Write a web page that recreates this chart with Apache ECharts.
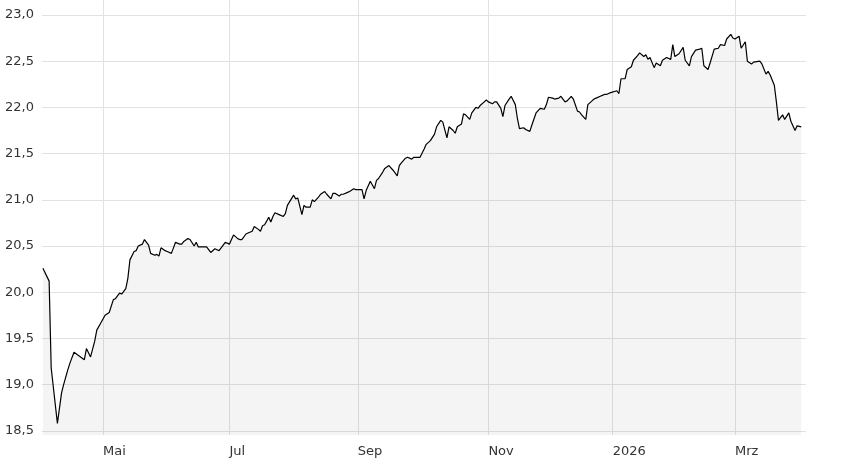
<!DOCTYPE html>
<html>
<head>
<meta charset="utf-8">
<script src="https://cdn.jsdelivr.net/npm/echarts@6/dist/echarts.min.js"></script>
<style>
html,body{margin:0;padding:0;background:#fff;}
#chart{width:848px;height:460px;}
</style>
</head>
<body>
<div id="chart"></div>
<script>
const dates = [
'2025-04-02','2025-04-05','2025-04-06','2025-04-09','2025-04-11','2025-04-12','2025-04-14','2025-04-15','2025-04-17','2025-04-22',
'2025-04-23','2025-04-25','2025-04-27','2025-04-28','2025-04-30','2025-05-02','2025-05-04','2025-05-06','2025-05-07','2025-05-09',
'2025-05-10','2025-05-12','2025-05-13','2025-05-14','2025-05-16','2025-05-17','2025-05-18','2025-05-20','2025-05-21','2025-05-23',
'2025-05-24','2025-05-26','2025-05-27','2025-05-28','2025-05-29','2025-05-31','2025-06-01','2025-06-03','2025-06-04','2025-06-05',
'2025-06-07','2025-06-08','2025-06-09','2025-06-11','2025-06-12','2025-06-14','2025-06-15','2025-06-16','2025-06-18','2025-06-20',
'2025-06-21','2025-06-22','2025-06-24','2025-06-25','2025-06-26','2025-06-28','2025-06-29','2025-07-01','2025-07-02','2025-07-03',
'2025-07-05','2025-07-06','2025-07-07','2025-07-09','2025-07-10','2025-07-12','2025-07-13','2025-07-15','2025-07-16','2025-07-17',
'2025-07-18','2025-07-20','2025-07-21','2025-07-22','2025-07-23','2025-07-25','2025-07-27','2025-07-28','2025-07-29','2025-08-01',
'2025-08-02','2025-08-03','2025-08-05','2025-08-06','2025-08-07','2025-08-09','2025-08-10','2025-08-11','2025-08-13','2025-08-14',
'2025-08-16','2025-08-17','2025-08-19','2025-08-20','2025-08-21','2025-08-23','2025-08-24','2025-08-25','2025-08-27','2025-08-28',
'2025-08-30','2025-08-31','2025-09-02','2025-09-03','2025-09-04','2025-09-05','2025-09-07','2025-09-09','2025-09-10','2025-09-11',
'2025-09-13','2025-09-14','2025-09-16','2025-09-18','2025-09-20','2025-09-21','2025-09-22','2025-09-24','2025-09-25','2025-09-27',
'2025-09-28','2025-09-30','2025-10-01','2025-10-03','2025-10-04','2025-10-06','2025-10-08','2025-10-09','2025-10-11','2025-10-12',
'2025-10-14','2025-10-15','2025-10-17','2025-10-18','2025-10-19','2025-10-21','2025-10-22','2025-10-23','2025-10-25','2025-10-26',
'2025-10-28','2025-10-29','2025-10-30','2025-11-01','2025-11-02','2025-11-03','2025-11-05','2025-11-06','2025-11-07','2025-11-09',
'2025-11-10','2025-11-11','2025-11-13','2025-11-14','2025-11-16','2025-11-17','2025-11-18','2025-11-20','2025-11-21','2025-11-23',
'2025-11-24','2025-11-26','2025-11-28','2025-11-30','2025-12-01','2025-12-02','2025-12-04','2025-12-05','2025-12-07','2025-12-08',
'2025-12-10','2025-12-11','2025-12-13','2025-12-14','2025-12-16','2025-12-17','2025-12-18','2025-12-20','2025-12-21','2025-12-23',
'2025-12-24','2025-12-25','2025-12-27','2025-12-28','2025-12-29','2025-12-30','2025-12-31','2026-01-01','2026-01-04','2026-01-05',
'2026-01-06','2026-01-08','2026-01-09','2026-01-11','2026-01-12','2026-01-14','2026-01-15','2026-01-17','2026-01-18','2026-01-19',
'2026-01-20','2026-01-22','2026-01-23','2026-01-25','2026-01-26','2026-01-28','2026-01-30','2026-01-31','2026-02-01','2026-02-03',
'2026-02-05','2026-02-06','2026-02-08','2026-02-09','2026-02-11','2026-02-13','2026-02-14','2026-02-15','2026-02-17','2026-02-18',
'2026-02-20','2026-02-22','2026-02-23','2026-02-25','2026-02-26','2026-02-28','2026-03-01','2026-03-02','2026-03-04','2026-03-05',
'2026-03-07','2026-03-08','2026-03-10','2026-03-11','2026-03-14','2026-03-15','2026-03-17','2026-03-18','2026-03-19','2026-03-21',
'2026-03-22','2026-03-23','2026-03-25','2026-03-26','2026-03-28','2026-03-29','2026-03-31','2026-04-01','2026-04-03'
];
const values = [
20.26,20.12,19.18,18.58,18.91,19.00,19.16,19.23,19.35,19.27,
19.39,19.30,19.47,19.59,19.67,19.75,19.78,19.92,19.93,19.99,
19.98,20.04,20.15,20.35,20.44,20.45,20.50,20.52,20.57,20.51,
20.42,20.40,20.41,20.39,20.48,20.45,20.44,20.42,20.48,20.54,
20.52,20.52,20.55,20.58,20.57,20.50,20.54,20.49,20.49,20.49,
20.46,20.43,20.47,20.46,20.45,20.51,20.54,20.52,20.57,20.62,
20.58,20.57,20.57,20.63,20.64,20.66,20.71,20.68,20.66,20.72,
20.73,20.81,20.76,20.82,20.86,20.84,20.82,20.85,20.94,21.05,
21.01,21.02,20.84,20.94,20.92,20.92,21.00,20.98,21.03,21.06,
21.09,21.06,21.01,21.07,21.07,21.04,21.06,21.06,21.08,21.09,
21.12,21.11,21.11,21.11,21.01,21.10,21.20,21.12,21.21,21.23,
21.30,21.34,21.37,21.32,21.26,21.37,21.40,21.45,21.46,21.44,
21.46,21.46,21.46,21.55,21.60,21.64,21.71,21.79,21.86,21.84,
21.67,21.79,21.75,21.72,21.79,21.82,21.93,21.92,21.87,21.94,
22.00,21.99,22.02,22.06,22.08,22.06,22.04,22.06,22.06,21.99,
21.90,22.02,22.09,22.12,22.03,21.88,21.77,21.78,21.76,21.74,
21.81,21.94,21.99,21.98,22.03,22.11,22.10,22.09,22.10,22.12,
22.06,22.07,22.12,22.09,21.96,21.95,21.92,21.87,22.03,22.07,
22.09,22.10,22.12,22.13,22.14,22.14,22.15,22.16,22.18,22.15,
22.31,22.31,22.41,22.44,22.51,22.56,22.59,22.55,22.57,22.52,
22.54,22.43,22.48,22.45,22.51,22.54,22.52,22.68,22.55,22.58,
22.65,22.51,22.45,22.55,22.62,22.63,22.64,22.45,22.41,22.48,
22.63,22.64,22.68,22.67,22.74,22.79,22.75,22.74,22.77,22.64,
22.71,22.50,22.47,22.49,22.50,22.47,22.36,22.39,22.35,22.24,
22.06,21.86,21.92,21.87,21.94,21.85,21.75,21.80,21.79
];
const yTicks = [18.5,19.0,19.5,20.0,20.5,21.0,21.5,22.0,22.5,23.0];
const xTickDates = ['2025-05-01','2025-07-01','2025-09-01','2025-11-03','2026-01-02','2026-03-02'];
const xTickLabels = ['Mai','Jul','Sep','Nov','2026','Mrz'];

function localTime(s, h, m) {
  const p = s.split('-').map(Number);
  return new Date(p[0], p[1] - 1, p[2], h || 0, m || 0, 0).getTime();
}
const xTickTimes = xTickDates.map(d => localTime(d));
const xMin = localTime('2025-04-01', 13, 26);
const xMax = localTime('2026-04-05', 7, 0);

const chart = echarts.init(document.getElementById('chart'), null, {renderer: 'canvas'});
chart.setOption({
  animation: false,
  backgroundColor: '#ffffff',
  grid: {left: 42, right: 42, top: 0, bottom: 25, containLabel: false},
  xAxis: {
    type: 'value',
    min: xMin,
    max: xMax,
    axisLine: {show: false},
    axisTick: {show: false, customValues: xTickTimes},
    axisLabel: {
      customValues: xTickTimes,
      align: 'left',
      margin: 10,
      color: '#333333',
      fontSize: 13,
      fontFamily: 'DejaVu Sans',
      formatter: function (val) {
        let best = 0, bd = Infinity;
        xTickTimes.forEach((t, i) => { const d = Math.abs(t - val); if (d < bd) { bd = d; best = i; } });
        return xTickLabels[best];
      }
    },
    splitLine: {show: true, lineStyle: {color: '#e2e2e2', width: 1}}
  },
  yAxis: {
    type: 'value',
    min: 18.455,
    max: 23.162,
    axisLine: {show: false},
    axisTick: {show: false, customValues: yTicks},
    axisLabel: {
      customValues: yTicks,
      align: 'left',
      margin: 37,
      color: '#333333',
      fontSize: 13,
      fontFamily: 'DejaVu Sans',
      formatter: v => v.toFixed(1).replace('.', ',')
    },
    splitLine: {show: true, lineStyle: {color: '#e2e2e2', width: 1}}
  },
  series: [{
    type: 'line',
    data: dates.map((d, i) => [localTime(d), values[i]]),
    showSymbol: false,
    symbol: 'none',
    lineStyle: {color: '#000000', width: 1.2},
    areaStyle: {color: 'rgba(0,0,0,0.06)', origin: 'start'},
    emphasis: {disabled: true}
  }]
});
</script>
</body>
</html>
